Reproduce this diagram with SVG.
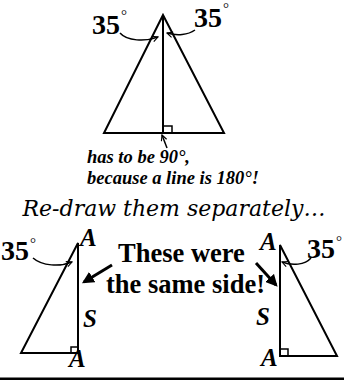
<svg xmlns="http://www.w3.org/2000/svg" width="344" height="381" viewBox="0 0 344 381">
<defs>
<style>
.ln{fill:none;stroke:#000;stroke-width:2;stroke-linejoin:miter}
.thin{fill:none;stroke:#000;stroke-width:1.5}
.num{font-family:"Liberation Serif","Times New Roman",serif;font-weight:bold;font-size:28px;fill:#000}
.deg{font-family:"Liberation Serif","Times New Roman",serif;font-weight:normal;font-size:15px}
.lbl{font-family:"Liberation Serif","Times New Roman",serif;font-weight:bold;font-style:italic;font-size:25px;fill:#000}
.note{font-family:"Liberation Serif","Times New Roman",serif;font-weight:bold;font-style:italic;font-size:18.5px;fill:#000}
.big{font-family:"Liberation Serif","Times New Roman",serif;font-weight:bold;font-size:26.5px;fill:#000}
.title{font-family:"DejaVu Serif",serif;font-style:italic;font-size:22px;fill:#000}
</style>
<marker id="open" viewBox="0 0 10 10" refX="9" refY="5" markerWidth="7" markerHeight="7" orient="auto" markerUnits="userSpaceOnUse">
<path d="M1,1 L9,5 L1,9" fill="none" stroke="#000" stroke-width="1.6"/>
</marker>
<marker id="solid" viewBox="0 0 10 10" refX="8" refY="5" markerWidth="4" markerHeight="4" orient="auto">
<path d="M0,0 L10,5 L0,10 Z" fill="#000"/>
</marker>
</defs>
<rect width="344" height="381" fill="#fff"/>

<g id="top-triangle">
<polygon class="ln" points="163,15 104,133 224,133"/>
<line class="ln" x1="163" y1="15" x2="163" y2="133"/>
<polyline class="thin" points="163,126 172,126 172,133"/>
</g>
<g id="top-labels">
<text class="num" x="92" y="34">35<tspan class="deg" dx="1" dy="-14">°</tspan></text>
<text class="num" x="194" y="27">35<tspan class="deg" dx="1" dy="-14">°</tspan></text>
<text class="note" x="87" y="163">has to be 90°,</text>
<text class="note" x="87" y="184">because a line is 180°!</text>
</g>

<text class="title" x="174" y="216" text-anchor="middle">Re-draw them separately…</text>

<g id="left-triangle">
<polygon class="ln" points="78,243 78,353 21,353"/>
<polyline class="thin" points="71,353 71,347 78,347"/>
<text class="lbl" x="80" y="246">A</text>
<text class="lbl" x="83" y="327">S</text>
<text class="lbl" x="69" y="367">A</text>
<text class="num" x="1" y="260">35<tspan class="deg" dx="1" dy="-12">°</tspan></text>
</g>

<g id="right-triangle">
<polygon class="ln" points="280,245 280,356 337,356"/>
<polyline class="thin" points="280,349 288,349 288,356"/>
<text class="lbl" x="260" y="250">A</text>
<text class="lbl" x="256" y="325">S</text>
<text class="lbl" x="261" y="366">A</text>
<text class="num" x="307" y="258">35<tspan class="deg" dx="1" dy="-12">°</tspan></text>
</g>

<g id="middle-text">
<text class="big" x="118" y="262">These were</text>
<text class="big" x="106" y="293">the same side!</text>
</g>

<g id="connectors">
<path class="thin" d="M120,33 C127,41 145,42 158,37" marker-end="url(#open)"/>
<path class="thin" d="M195,30 C188,35 177,36 167,33" marker-end="url(#open)"/>
<path class="thin" d="M167,148 L162,135" marker-end="url(#open)"/>
<path class="thin" d="M33,258 C42,266 60,267 72,262" marker-end="url(#open)"/>
<path class="thin" d="M311,258 C305,265 292,266 282,262" marker-end="url(#open)"/>
<line x1="112" y1="265" x2="84" y2="282" stroke="#000" stroke-width="3" marker-end="url(#solid)"/>
<line x1="256" y1="263" x2="276" y2="285" stroke="#000" stroke-width="3" marker-end="url(#solid)"/>
</g>

<rect x="0" y="377.5" width="344" height="2.5" fill="#000"/>
</svg>
